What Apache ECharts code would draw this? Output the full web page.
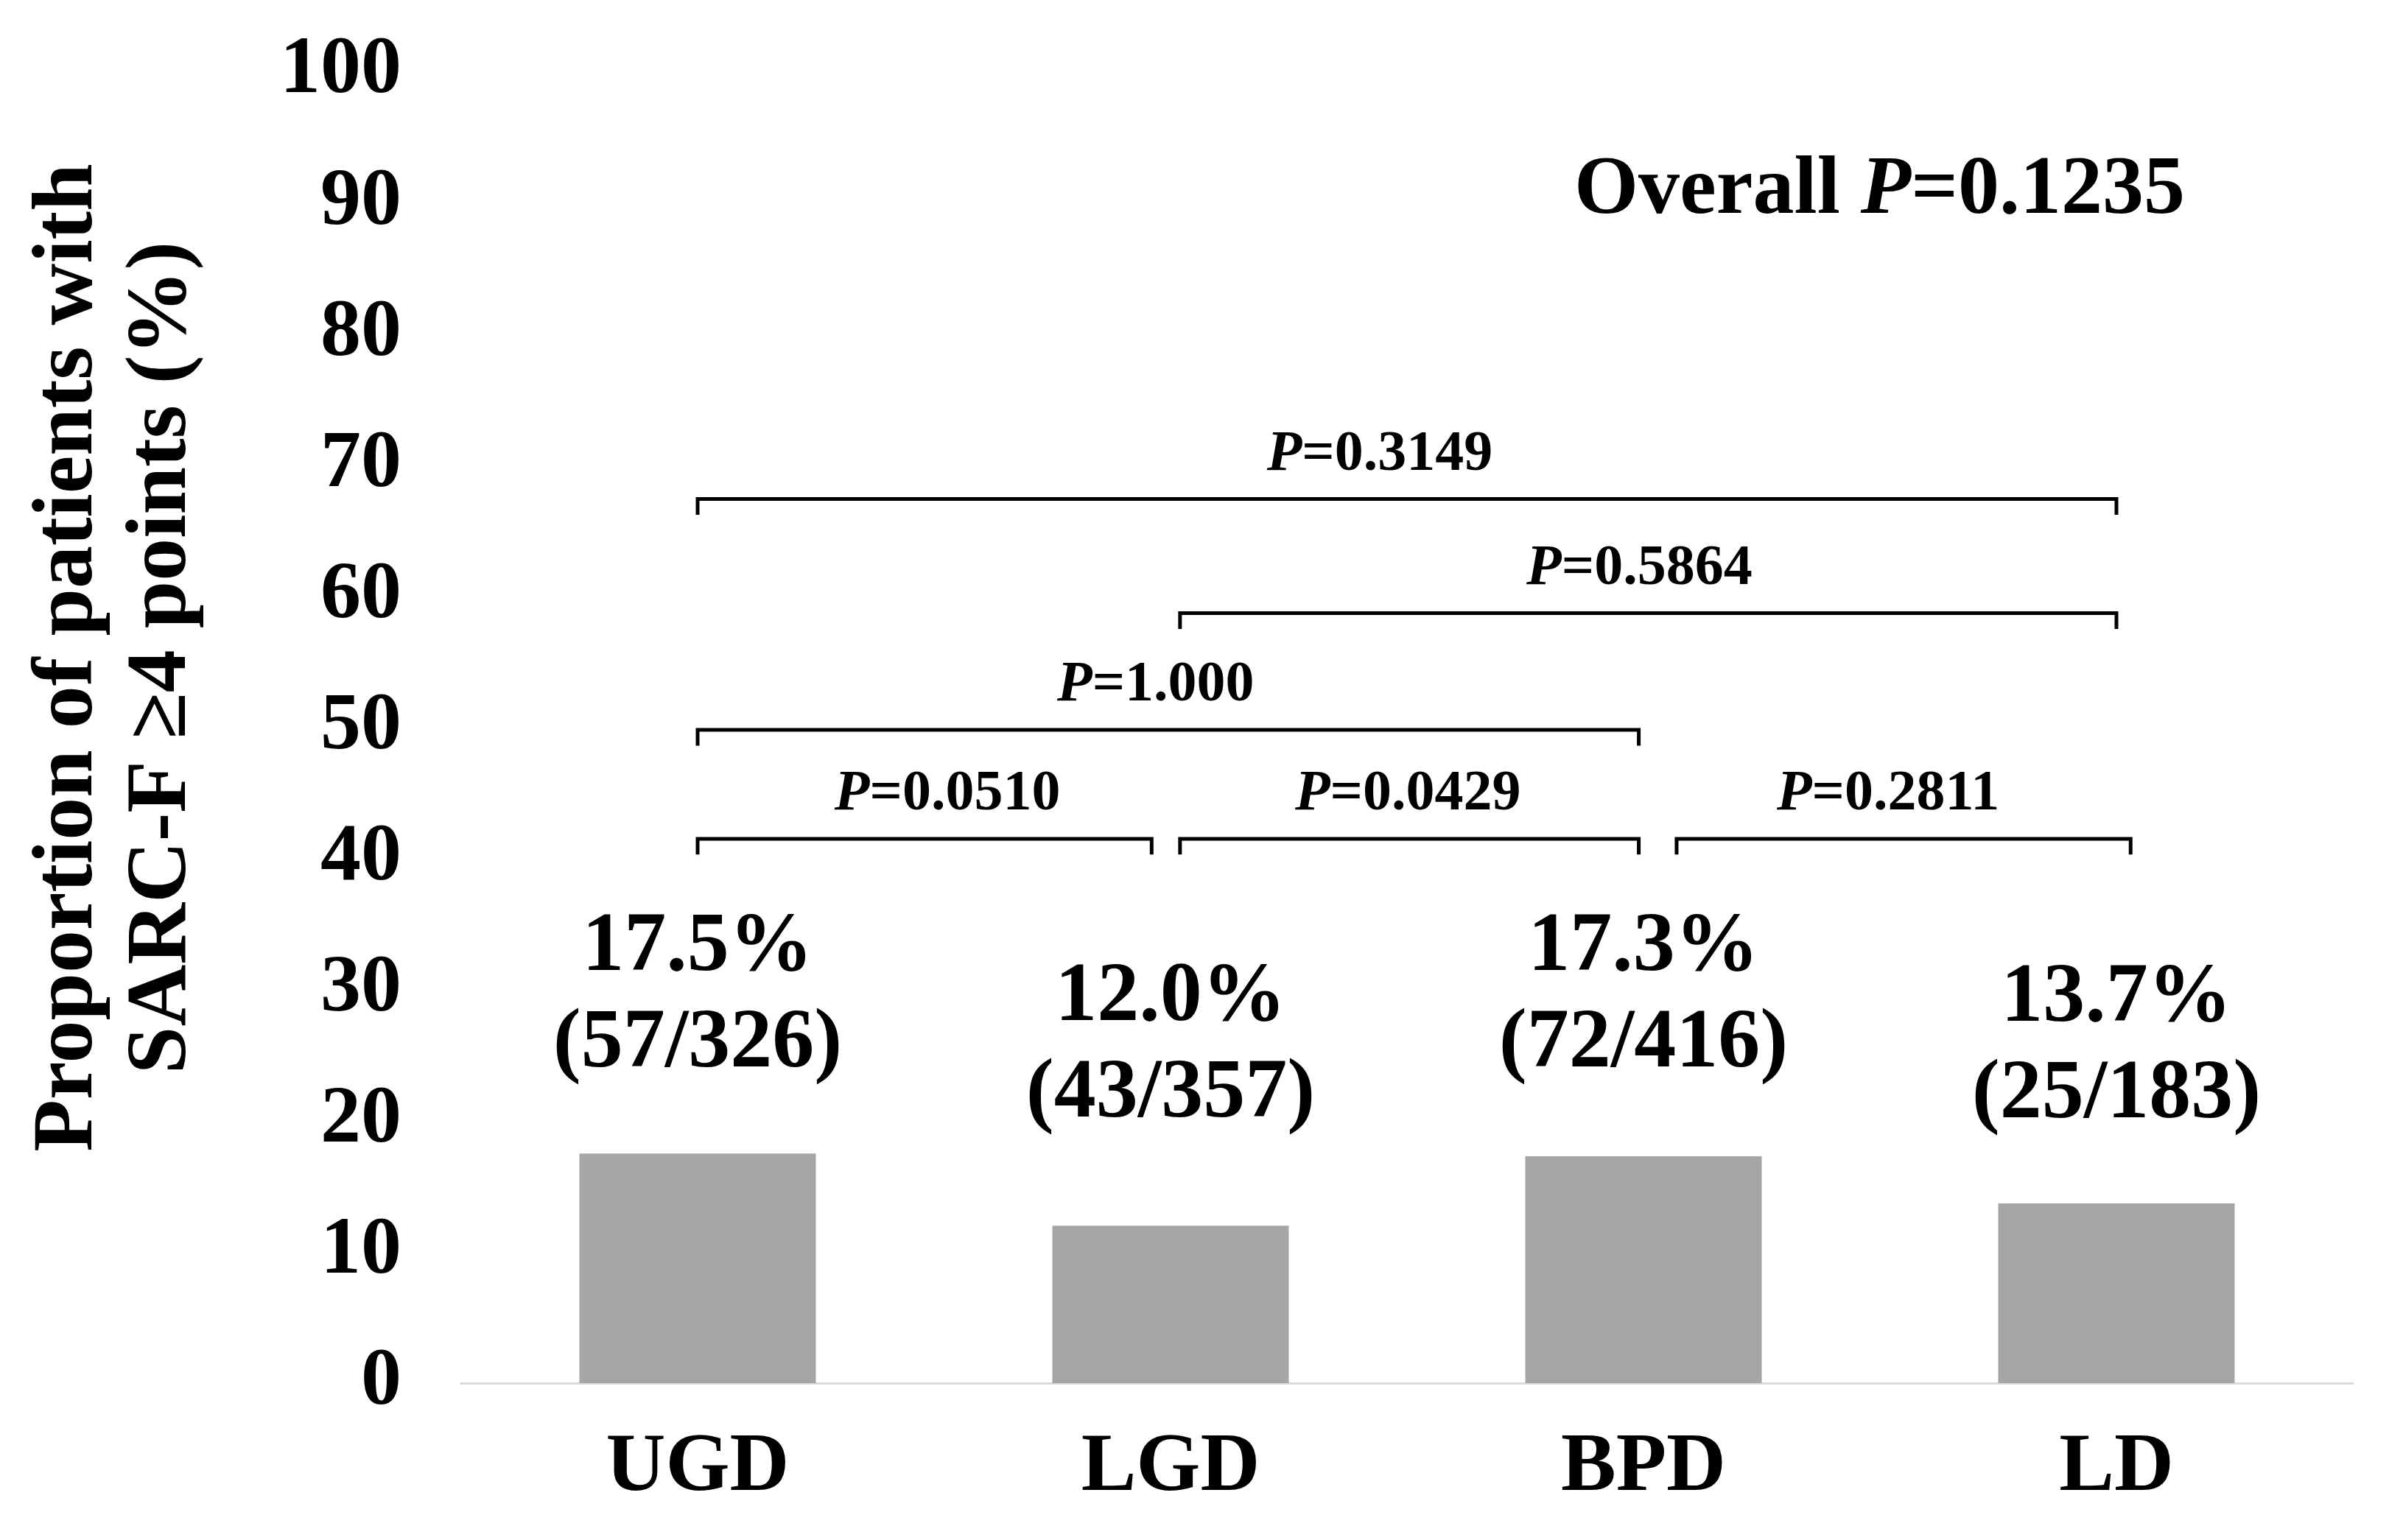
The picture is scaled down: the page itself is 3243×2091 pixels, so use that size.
<!DOCTYPE html>
<html>
<head>
<meta charset="utf-8">
<script src="https://cdn.jsdelivr.net/npm/echarts@6/dist/echarts.min.js"></script>
<style>
html,body{margin:0;padding:0;background:#fff;}
#chart{width:3243px;height:2091px;}
</style>
</head>
<body>
<div id="chart"></div>
<script>
// ---- data ----
const categories = ['UGD', 'LGD', 'BPD', 'LD'];
const percentValues = [17.5, 12.0, 17.3, 13.7];
const countLabels = ['57/326', '43/357', '72/416', '25/183'];
const yTicks = [0, 10, 20, 30, 40, 50, 60, 70, 80, 90, 100];
// significance brackets: start / end (category position), height (%), p-value
const bracketStart = [0, 1.02, 0, 0, 1.02, 2.07];
const bracketEnd = [3.0, 3.0, 1.99, 0.96, 1.99, 3.03];
const bracketLevel = [67.4, 58.7, 49.8, 41.5, 41.5, 41.5];
const bracketP = ['0.3149', '0.5864', '1.000', '0.0510', '0.0429', '0.2811'];
const overallP = '0.1235';

// ---- styles ----
const FONT = '"Liberation Serif", "Times New Roman", serif';
const labelGaps = [82, 112, 86, 81];
const bracketLabelShift = [-37, -12, -17, 31, -2, -21];

const chart = echarts.init(document.getElementById('chart'), null, {renderer: 'canvas'});

const barData = percentValues.map((v, i) => ({
  value: v,
  label: {distance: labelGaps[i]}
}));

const bracketData = bracketStart.map((s, i) => [s, bracketEnd[i], bracketLevel[i], i]);

const pRich = {
  i: {fontFamily: FONT, fontStyle: 'italic', fontWeight: 'bold', fontSize: 78, fill: '#000', color: '#000'},
  b: {fontFamily: FONT, fontWeight: 'bold', fontSize: 78, fill: '#000', color: '#000'}
};

const option = {
  backgroundColor: '#fff',
  animation: false,
  grid: {left: 626, right: 49, top: 97, bottom: 213, containLabel: false},
  xAxis: [{
    type: 'category',
    data: categories,
    axisLine: {show: true, lineStyle: {color: '#d9d9d9', width: 3}},
    axisTick: {show: false},
    axisLabel: {
      fontFamily: FONT, fontWeight: 'bold', fontSize: 112, color: '#000', margin: 60
    }
  }, {
    type: 'value', min: -0.5, max: 3.5, show: false
  }],
  yAxis: {
    type: 'value', min: 0, max: 100, interval: 10,
    axisLine: {show: false}, axisTick: {show: false}, splitLine: {show: false},
    axisLabel: {
      fontFamily: FONT, fontWeight: 'bold', fontSize: 110, color: '#000', margin: 81,
      formatter: v => yTicks.indexOf(v) >= 0 ? String(v) : ''
    }
  },
  graphic: [{
    type: 'text',
    x: 158, y: 893,
    rotation: Math.PI / 2,
    style: {
      text: 'Proportion of patients with\nSARC-F \u22654 points (%)',
      font: 'bold 116px ' + FONT,
      fill: '#000',
      align: 'center',
      verticalAlign: 'middle',
      lineHeight: 127
    }
  }, {
    type: 'text',
    x: 2966, y: 260,
    style: {
      text: '{b|Overall }{i|P}{b|=' + overallP + '}',
      rich: {
        i: {fontFamily: FONT, fontStyle: 'italic', fontWeight: 'bold', fontSize: 112, fill: '#000'},
        b: {fontFamily: FONT, fontWeight: 'bold', fontSize: 112, fill: '#000'}
      },
      align: 'right',
      verticalAlign: 'middle'
    }
  }],
  series: [{
    type: 'bar',
    xAxisIndex: 0,
    data: barData,
    barWidth: '50%',
    itemStyle: {color: '#a6a6a6'},
    label: {
      show: true,
      position: 'top',
      formatter: p => '{a|' + percentValues[p.dataIndex].toFixed(1) + '%}\n{a|(' + countLabels[p.dataIndex] + ')}',
      rich: {
        a: {fontFamily: FONT, fontWeight: 'bold', fontSize: 114, color: '#000', lineHeight: 131}
      }
    }
  }, {
    type: 'custom',
    xAxisIndex: 1,
    yAxisIndex: 0,
    data: bracketData,
    silent: true,
    z: 5,
    renderItem: function (params, api) {
      const x1 = api.value(0), x2 = api.value(1), lv = api.value(2), idx = api.value(3);
      const p1 = api.coord([x1, lv]);
      const p2 = api.coord([x2, lv]);
      const tick = api.size([0, 1.2])[1];
      return {
        type: 'group',
        children: [{
          type: 'polyline',
          shape: {points: [[p1[0], p1[1] + tick], [p1[0], p1[1]], [p2[0], p2[1]], [p2[0], p2[1] + tick]]},
          style: {stroke: '#000', lineWidth: 5, fill: null}
        }, {
          type: 'text',
          style: {
            text: '{i|P}{b|=' + bracketP[idx] + '}',
            rich: pRich,
            x: (p1[0] + p2[0]) / 2 + bracketLabelShift[idx],
            y: p1[1] - 60,
            align: 'center',
            verticalAlign: 'middle'
          }
        }]
      };
    }
  }]
};

chart.setOption(option);
</script>
</body>
</html>
